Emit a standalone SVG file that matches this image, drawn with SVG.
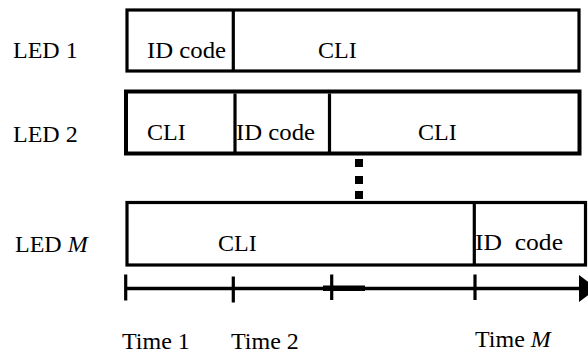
<svg xmlns="http://www.w3.org/2000/svg" width="588" height="356" viewBox="0 0 588 356">
<style>
.box{fill:#fff;stroke:#000;stroke-width:3.2}
.box2{fill:#fff;stroke:#000;stroke-width:4}
.div{stroke:#000;stroke-width:3.2}
.ax{stroke:#000;stroke-width:3.5}
.t{font-family:'Liberation Serif','DejaVu Serif',serif;font-size:24px;fill:#000}
</style>
<rect width="588" height="356" fill="#fff"/>
<g id="led1">
<text class="t" x="13" y="58" font-family="Liberation Serif, serif">LED 1</text>
<rect class="box" x="127" y="10" width="452" height="61"/>
<line class="div" x1="233.3" y1="10" x2="233.3" y2="71"/>
<text class="t" x="147" y="58" font-family="Liberation Serif, serif" textLength="79" lengthAdjust="spacingAndGlyphs">ID code</text>
<text class="t" x="318" y="58" font-family="Liberation Serif, serif">CLI</text>
</g>
<g id="led2">
<text class="t" x="13" y="142" font-family="Liberation Serif, serif">LED 2</text>
<rect class="box2" x="126" y="91.5" width="453.5" height="62"/>
<line class="div" x1="235" y1="93.5" x2="235" y2="153.5"/>
<line class="div" x1="329.5" y1="93.5" x2="329.5" y2="153.5"/>
<text class="t" x="147" y="140" font-family="Liberation Serif, serif">CLI</text>
<text class="t" x="236" y="140" font-family="Liberation Serif, serif" textLength="79" lengthAdjust="spacingAndGlyphs">ID code</text>
<text class="t" x="418" y="140" font-family="Liberation Serif, serif">CLI</text>
</g>
<g id="dots">
<rect x="355" y="159" width="8" height="8"/>
<rect x="355" y="176" width="8" height="8"/>
<rect x="355" y="191" width="8" height="8"/>
</g>
<g id="ledM">
<text class="t" x="15" y="252" font-family="Liberation Serif, serif">LED <tspan font-style="italic">M</tspan></text>
<rect class="box" x="127" y="202.5" width="458.5" height="62.5"/>
<line class="div" x1="474.3" y1="204" x2="474.3" y2="265"/>
<text class="t" x="218" y="251" font-family="Liberation Serif, serif">CLI</text>
<text class="t" x="475" y="250" font-family="Liberation Serif, serif" textLength="88" lengthAdjust="spacingAndGlyphs" xml:space="preserve">ID  code</text>
</g>
<g id="connectors">
<line class="ax" x1="126" y1="288.5" x2="582" y2="288.5"/>
<rect x="323" y="285.5" width="42" height="5.5"/>
<polygon points="579,275 579,302 597,288.5"/>
<line class="div" x1="125.7" y1="274.5" x2="125.7" y2="300.5"/>
<line class="div" x1="233.3" y1="276.5" x2="233.3" y2="302.5"/>
<line class="div" x1="331.7" y1="274.5" x2="331.7" y2="300"/>
<line class="div" x1="475" y1="274.5" x2="475" y2="300"/>
</g>
<g id="labels">
<text class="t" x="122" y="349" font-family="Liberation Serif, serif">Time 1</text>
<text class="t" x="231" y="349" font-family="Liberation Serif, serif">Time 2</text>
<text class="t" x="475" y="347" font-family="Liberation Serif, serif">Time <tspan font-style="italic">M</tspan></text>
</g>
</svg>
